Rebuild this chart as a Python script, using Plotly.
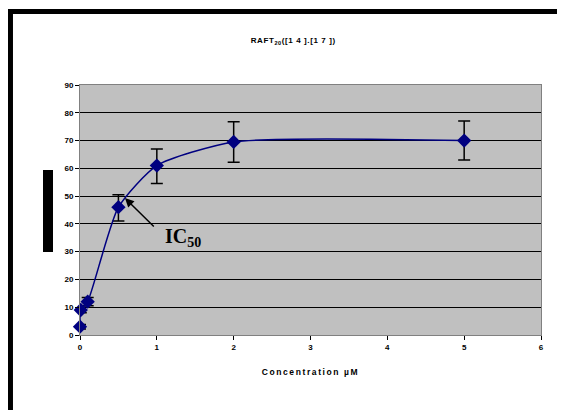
import plotly.graph_objects as go

# data
conc = [0.0, 0.01, 0.1, 0.5, 1.0, 2.0, 5.0]
inhib = [3.0, 9.0, 12.0, 46.0, 61.0, 69.5, 70.0]
err_plus = [0.8, 1.0, 1.5, 4.5, 6.0, 7.3, 7.0]
err_minus = [0.8, 1.0, 1.5, 5.0, 6.5, 7.3, 7.0]

x_ticks = [0, 1, 2, 3, 4, 5, 6]
y_ticks = [0, 10, 20, 30, 40, 50, 60, 70, 80, 90]

NAVY = "#000080"
ARIAL = "Arial, Liberation Sans"
tick_font = dict(family=ARIAL, size=8, color="black", weight="bold")

fig = go.Figure()
fig.add_trace(go.Scatter(
    x=conc, y=inhib,
    mode="lines+markers",
    line=dict(color=NAVY, width=1.5, shape="spline", smoothing=0.6),
    marker=dict(symbol="diamond", size=11, color=NAVY),
    error_y=dict(type="data", symmetric=False, array=err_plus, arrayminus=err_minus,
                 color="black", thickness=1.5, width=6),
    cliponaxis=False,
    showlegend=False,
))

# the page has an 8px body margin, so the figure is 8px smaller than the window
fig.update_layout(
    width=557, height=402,
    margin=dict(l=72, r=24, t=77, b=75),
    paper_bgcolor="white",
    plot_bgcolor="#C0C0C0",
    title=dict(text="<span style='letter-spacing:0.6px'>RAFT<sub>20</sub>([1 4 ].[1 7 ])</span>",
               x=0.512, xanchor="center", y=0.919, yanchor="middle",
               font=dict(family=ARIAL, size=8, color="black", weight="bold")),
    xaxis=dict(range=[0, 6], tickvals=x_ticks, showgrid=False, zeroline=False,
               showline=True, linecolor="#808080", linewidth=1, mirror=True,
               ticks="outside", ticklen=4, tickcolor="black", tickfont=tick_font,
               title=dict(text="<span style='letter-spacing:1.6px'>Concentration µM</span>", standoff=18,
                          font=dict(family=ARIAL, size=8.5, color="black", weight="bold"))),
    yaxis=dict(range=[0, 90], tickvals=y_ticks, showgrid=True, gridcolor="black", gridwidth=1,
               zeroline=False, showline=True, linecolor="#808080", linewidth=1, mirror=True,
               ticks="outside", ticklen=4, tickcolor="black", tickfont=tick_font),
)

# IC50 annotation with arrow
fig.add_annotation(x=0.585, y=49.3, ax=0.98, ay=38.5, axref="x", ayref="y",
                   text="", showarrow=True, arrowhead=2, arrowsize=1.2, arrowwidth=1.5,
                   arrowcolor="black")
fig.add_annotation(x=1.08, y=40.5, xanchor="left", yanchor="top", showarrow=False,
                   text="IC<sub>50</sub>",
                   font=dict(family="Liberation Serif, Times New Roman", size=20, color="black", weight="bold"))

# black frame around the page and the masked y label
fig.add_shape(type="line", xref="paper", yref="paper", x0=-0.16, x1=1.1, y0=1.294, y1=1.294,
              line=dict(color="black", width=5))
fig.add_shape(type="line", xref="paper", yref="paper", x0=-0.1508, x1=-0.1508, y0=-0.4, y1=1.304,
              line=dict(color="black", width=5))
fig.add_shape(type="rect", xref="paper", yref="paper", x0=-0.0803, x1=-0.0586, y0=0.332, y1=0.66,
              line=dict(width=0), fillcolor="black")

fig.write_html("out.html")
